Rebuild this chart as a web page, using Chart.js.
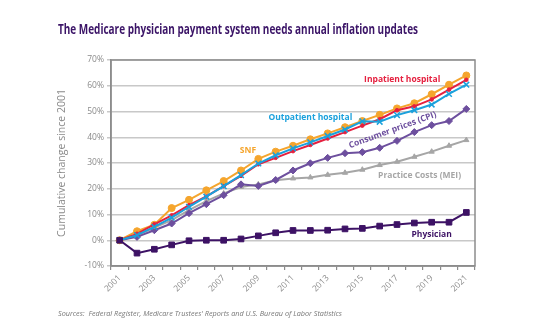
<!DOCTYPE html>
<html>

<head>
    <meta charset="utf-8">
    <title>Medicare physician payment</title>
    <script src="https://cdn.jsdelivr.net/npm/chart.js@4.4.1/dist/chart.umd.min.js"></script>
    <style>
        body {
            margin: 0;
            background: #fff;
            width: 549px;
            height: 331px;
            overflow: hidden;
        }

        #wrap {
            position: relative;
            width: 549px;
            height: 331px;
        }

        canvas {
            position: absolute;
            left: 0;
            top: 0;
        }

        .txt {
            position: absolute;
            white-space: nowrap;
            transform-origin: 0 0;
        }

        #title {
            left: 58px;
            top: 18px;
            font: bold 15px "Open Sans", sans-serif;
            color: #3b1467;
        }

        #source {
            left: 58px;
            top: 307px;
            font: italic 8px "Open Sans", sans-serif;
            color: #777;
        }
    </style>
</head>

<body>
    <div id="wrap">
        <canvas id="canvas" width="549" height="331"></canvas>
        <div class="txt" id="title" data-w="360">The Medicare physician payment system needs annual inflation updates</div>
        <div class="txt" id="source" data-w="284">Sources:&nbsp; Federal Register, Medicare Trustees' Reports and U.S. Bureau of Labor Statistics</div>
    </div>

    <script>
        // years 2001 - 2021, cumulative change since 2001 (%)
        const years = ['2001', '2002', '2003', '2004', '2005', '2006', '2007', '2008', '2009', '2010', '2011',
            '2012', '2013', '2014', '2015', '2016', '2017', '2018', '2019', '2020', '2021'];

        const snf = [0, 3.5, 6, 12.5, 15.7, 19.4, 23, 27.1, 31.6, 34.4, 36.7, 39.2, 41.5, 43.9, 46.3, 48.7, 51.2, 53.2, 56.7, 60.4, 64];
        const inpatient = [0, 2.5, 6.2, 9.7, 13.6, 17, 21, 25, 29.5, 32, 34.6, 37, 39.5, 42, 44.5, 47, 50.5, 52, 54.7, 58.5, 62.3];
        const outpatient = [0, 2, 5.2, 8.8, 13, 16.9, 21, 25.3, 29.8, 33, 35.7, 38, 40.5, 43, 46.2, 46, 48.6, 50.5, 52.7, 56.8, 60.4];
        const cpi = [0, 1.3, 3.9, 6.5, 10.5, 14, 17.5, 21.7, 21.1, 23.4, 27.1, 29.9, 32, 33.8, 34.2, 35.9, 38.6, 42, 44.7, 46.3, 51];
        const mei = [0, 1.9, 4.9, 7.8, 11.7, 15.2, 18.2, 20.7, 21.7, 23.3, 24, 24.4, 25.4, 26.2, 27.4, 29.2, 30.5, 32.4, 34.4, 36.7, 38.9];
        const physician = [0, -5, -3.5, -1.8, -0.2, 0, 0, 0.5, 1.7, 2.9, 3.8, 3.8, 3.9, 4.4, 4.6, 5.5, 6.1, 6.7, 7.0, 7.0, 10.8];

        const yTicks = [-10, 0, 10, 20, 30, 40, 50, 60, 70];

        // series names written next to the lines: [text, year index, value, color, angle]
        const seriesLabels = [
            ['Inpatient hospital', 16.3, 62.5, '#e5203f', 0],
            ['Outpatient hospital', 11.0, 47.5, '#1ba1dc', 0],
            ['SNF', 7.4, 34.7, '#f5a52d', 0],
            ['Consumer prices (CPI)', 15.75, 42.8, '#6d4f9e', -20],
            ['Practice Costs (MEI)', 17.3, 25, '#a6a6a6', 0],
            ['Physician', 18.0, 2.3, '#3d1265', 0]
        ];

        // squeeze html texts to their set width
        document.querySelectorAll('.txt').forEach(function (el) {
            const w = el.getBoundingClientRect().width;
            el.style.transform = 'scaleX(' + (el.dataset.w / w) + ')';
        });

        const framePlugin = {
            id: 'frame',
            afterDraw(chart) {
                const ctx = chart.ctx;
                const a = chart.chartArea;
                const x = chart.scales.x, y = chart.scales.y;
                ctx.save();
                ctx.strokeStyle = '#8c8c8c';
                ctx.lineWidth = 1.5;
                ctx.strokeRect(a.left, a.top, a.right - a.left, a.bottom - a.top);
                ctx.textAlign = 'center';
                ctx.textBaseline = 'middle';
                ctx.font = 'bold 8.5px "Open Sans", sans-serif';
                seriesLabels.forEach(function (l) {
                    ctx.save();
                    ctx.fillStyle = l[3];
                    ctx.translate(x.getPixelForValue(l[1]), y.getPixelForValue(l[2]));
                    ctx.rotate(l[4] * Math.PI / 180);
                    ctx.fillText(l[0], 0, 0);
                    ctx.restore();
                });
                ctx.restore();
            }
        };

        function series(label, data, color, style, radius, order) {
            return {
                label: label,
                data: data,
                borderColor: color,
                backgroundColor: color,
                pointBackgroundColor: color,
                pointBorderColor: color,
                pointStyle: style,
                pointRadius: radius,
                pointBorderWidth: style === 'crossRot' ? 1.5 : 1,
                borderWidth: 2,
                tension: 0,
                order: order
            };
        }

        const chart = new Chart(document.getElementById('canvas'), {
            type: 'line',
            data: {
                labels: years,
                datasets: [
                    series('Physician', physician, '#3d1265', 'rect', 4, 0),
                    series('Outpatient hospital', outpatient, '#1ba1dc', 'crossRot', 4, 1),
                    series('Inpatient hospital', inpatient, '#e5203f', 'circle', 1.8, 2),
                    series('SNF', snf, '#f5a52d', 'circle', 3.5, 3),
                    series('Consumer prices (CPI)', cpi, '#6d4f9e', 'rectRot', 3.5, 4),
                    series('Practice Costs (MEI)', mei, '#a6a6a6', 'triangle', 3, 5)
                ]
            },
            options: {
                responsive: false,
                animation: false,
                layout: { padding: { left: 56, right: 74, top: 60, bottom: 25 } },
                plugins: {
                    legend: { display: false },
                    tooltip: { enabled: false }
                },
                scales: {
                    x: {
                        offset: true,
                        grid: {
                            offset: true,
                            drawOnChartArea: false,
                            color: '#8c8c8c',
                            lineWidth: 1.2,
                            tickLength: 4
                        },
                        border: { color: '#8c8c8c', width: 1.5 },
                        ticks: {
                            autoSkip: false,
                            minRotation: 45,
                            maxRotation: 45,
                            color: '#8a8a8a',
                            font: { family: 'Open Sans', size: 8.5 },
                            callback: function (v, i) { return i % 2 === 0 ? years[i] : ''; }
                        },
                        afterFit: function (s) { s.height = 40; }
                    },
                    y: {
                        min: -10,
                        max: 70,
                        afterBuildTicks: function (s) { s.ticks = yTicks.map(function (v) { return { value: v }; }); },
                        grid: { color: '#c8c8c8', lineWidth: 1.5, tickLength: 4 },
                        border: { color: '#8c8c8c', width: 1.5 },
                        ticks: {
                            color: '#8a8a8a',
                            padding: 3,
                            font: { family: 'Open Sans', size: 8.5 },
                            callback: function (v) { return v + '%'; }
                        },
                        title: {
                            display: true,
                            text: 'Cumulative change since 2001',
                            color: '#8a8a8a',
                            font: { family: 'Open Sans', size: 10.5 },
                            padding: { top: 0, bottom: 4 }
                        },
                        afterFit: function (s) { s.width = 55; }
                    }
                }
            },
            plugins: [framePlugin]
        });
    </script>
</body>

</html>
